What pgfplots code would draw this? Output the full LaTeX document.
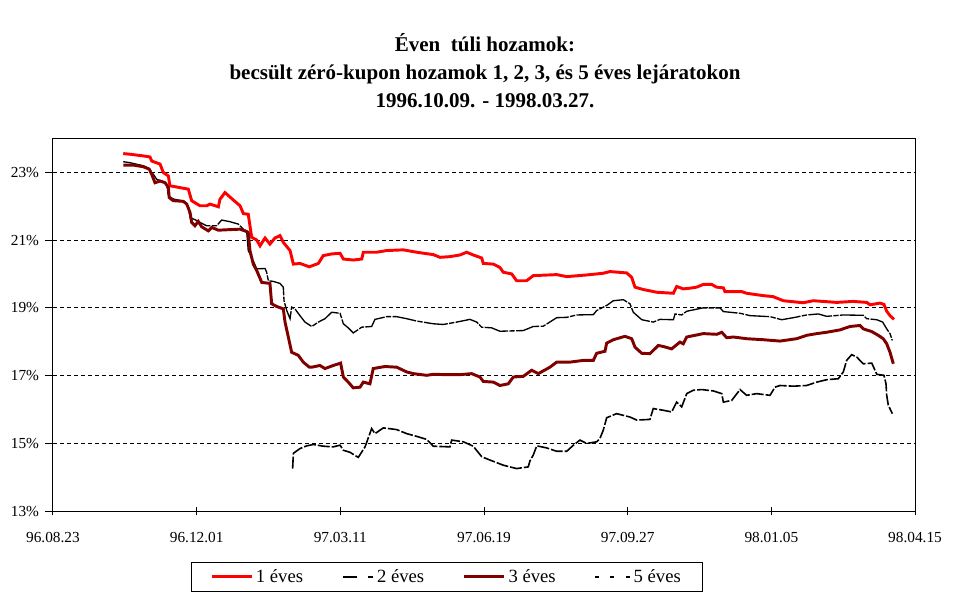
\documentclass[border=0pt]{standalone}
\usepackage{fontspec}
\setmainfont{Liberation Serif}
\usepackage{pgfplots}
\pgfplotsset{compat=1.18}
\definecolor{egy}{RGB}{255,0,0}
\definecolor{harom}{RGB}{128,0,0}
\begin{document}
\begin{tikzpicture}
\useasboundingbox (-39.75pt,-68.775pt) rectangle (687pt,383.475pt);
\begin{axis}[
  at={(0pt,0pt)}, anchor=south west,
  scale only axis, width=646.5pt, height=279.75pt,
  xmin=0, xmax=600, ymin=13, ymax=24,
  axis line style={black, line width=0.75pt},
  xtick={0,100,...,600},
  xticklabels={96.08.23,96.12.01,97.03.11,97.06.19,97.09.27,98.01.05,98.04.15},
  ytick={13,15,...,23},
  yticklabels={13\%,15\%,17\%,19\%,21\%,23\%},
  xtick align=center, ytick align=outside,
  major tick length=6pt,
  tick style={black, line width=0.75pt},
  xtick pos=bottom, ytick pos=left,
  ymajorgrids,
  major grid style={black, line width=0.75pt, dash pattern=on 3pt off 2.25pt},
  ticklabel style={font=\fontsize{11.5}{13}\selectfont},
  xticklabel style={yshift=-9pt},
  yticklabel style={xshift=-1pt},
  legend columns=4,
  legend style={at={(axis description cs:0.457,-0.176)}, anchor=center,
    draw=black, line width=0.75pt, font=\fontsize{14}{16}\selectfont,
    inner xsep=14.5pt, inner ysep=3pt,
    /tikz/every even column/.append style={column sep=27pt},
    cells={anchor=west}},
  legend image code/.code={\draw[#1] (0pt,0pt) -- (30pt,0pt);},
]
\addplot[egy, line width=2.2pt] coordinates {
(48.9,23.55)(53.6,23.53)(62.9,23.48)(67.5,23.45)(68.7,23.33)(74.5,23.24)(76.8,22.99)(80.3,22.89)(81.4,22.6)(94.2,22.5)(96.5,22.16)(102.3,22.01)(107.0,22.01)(109.3,22.06)(115.1,21.98)(116.2,22.2)(119.7,22.4)(125.5,22.18)(130.2,22.01)(132.5,21.78)(135.9,21.76)(138.3,21.08)(141.8,21.0)(144.1,20.83)(147.6,21.06)(151.0,20.88)(154.5,21.06)(158.0,21.13)(160.3,20.93)(165.0,20.69)(167.3,20.29)(171.9,20.31)(178.4,20.21)(184.7,20.31)(188.1,20.54)(194.0,20.59)(199.8,20.61)(202.1,20.44)(209.0,20.41)(214.9,20.44)(216.0,20.64)(225.3,20.64)(232.3,20.69)(243.8,20.71)(253.2,20.64)(264.7,20.57)(269.4,20.49)(276.3,20.51)(283.3,20.56)(287.9,20.64)(292.5,20.56)(298.4,20.47)(299.5,20.31)(306.5,20.29)(311.1,20.19)(313.4,20.05)(319.3,20.0)(322.7,19.8)(329.7,19.8)(334.3,19.95)(350.6,19.98)(357.6,19.92)(371.5,19.97)(383.0,20.02)(387.7,20.07)(399.3,20.03)(402.8,19.9)(405.1,19.61)(410.9,19.54)(420.2,19.46)(431.8,19.43)(434.1,19.63)(438.7,19.56)(443.4,19.58)(448.0,19.61)(452.6,19.69)(458.5,19.69)(461.9,19.61)(466.6,19.59)(467.7,19.48)(479.3,19.48)(482.8,19.43)(494.4,19.36)(501.3,19.33)(508.3,19.21)(522.2,19.15)(529.2,19.21)(545.5,19.16)(557.0,19.19)(566.4,19.16)(568.7,19.09)(575.6,19.14)(578.4,19.10)(580.3,18.90)(582.6,18.77)(585.4,18.66)
};
\addlegendentry{1 éves}
\addplot[black, line width=1pt, dash pattern=on 18pt off 1pt on 4pt off 1pt,
  legend image code/.code={\draw[black, line width=1.5pt] (0pt,0pt) -- (11pt,0pt) (19pt,0pt) -- (23pt,0pt);}] coordinates {
(48.9,23.31)(53.6,23.28)(62.9,23.19)(66.3,23.13)(69.8,22.94)(72.2,22.79)(76.8,22.72)(79.1,22.65)(80.3,22.30)(83.7,22.21)(89.6,22.16)(91.9,22.11)(94.2,21.96)(95.4,21.66)(98.8,21.60)(102.3,21.52)(107.0,21.42)(113.9,21.42)(117.4,21.59)(123.2,21.54)(129.0,21.47)(132.5,21.32)(134.8,21.27)(135.9,20.69)(138.3,20.49)(141.8,20.15)(147.6,20.16)(148.7,20.05)(149.9,19.80)(153.3,19.78)(158.0,19.72)(160.3,19.61)(160.8,19.21)(162.7,18.92)(165.0,18.68)(166.1,19.02)(168.4,18.97)(171.9,18.77)(175.4,18.58)(180.1,18.45)(184.7,18.58)(189.3,18.68)(194.0,18.87)(199.8,18.84)(202.1,18.53)(205.5,18.41)(209.0,18.26)(214.9,18.43)(221.8,18.45)(224.1,18.66)(232.3,18.74)(239.2,18.74)(246.2,18.68)(253.2,18.61)(264.7,18.53)(271.7,18.51)(281.0,18.58)(290.2,18.66)(294.9,18.58)(298.4,18.43)(305.3,18.41)(311.1,18.31)(327.3,18.33)(334.3,18.45)(341.3,18.46)(350.6,18.71)(357.6,18.72)(364.5,18.79)(376.1,18.80)(378.4,18.92)(385.4,19.07)(390.0,19.21)(397.0,19.24)(401.6,19.12)(403.9,18.87)(409.8,18.65)(417.8,18.58)(422.5,18.66)(431.8,18.65)(433.0,18.82)(437.6,18.79)(441.1,18.90)(445.7,18.94)(452.6,19.0)(464.3,19.0)(466.6,18.89)(478.2,18.84)(485.2,18.77)(499.1,18.74)(507.2,18.65)(515.3,18.71)(524.6,18.79)(532.7,18.82)(538.5,18.75)(550.1,18.79)(564.0,18.78)(566.4,18.68)(573.4,18.65)(577.5,18.58)(580.3,18.38)(582.6,18.24)(584.2,18.04)
};
\addlegendentry{2 éves}
\addplot[harom, line width=2.2pt] coordinates {
(48.9,23.21)(55.9,23.21)(62.9,23.16)(67.0,23.09)(68.7,22.94)(71.0,22.69)(74.5,22.74)(78.0,22.69)(80.3,22.55)(80.9,22.25)(83.7,22.16)(90.7,22.14)(93.1,22.06)(95.4,21.81)(96.5,21.52)(98.8,21.42)(101.1,21.55)(103.5,21.39)(108.1,21.27)(110.5,21.37)(115.1,21.29)(119.7,21.30)(130.2,21.32)(134.8,21.25)(135.9,21.22)(137.1,20.69)(139.4,20.29)(141.8,20.10)(145.3,19.75)(151.0,19.72)(152.2,19.12)(155.7,19.04)(160.3,18.97)(161.5,18.58)(163.8,18.14)(166.1,17.69)(170.7,17.60)(174.2,17.40)(178.4,17.25)(180.1,17.25)(185.8,17.30)(189.3,17.21)(195.1,17.30)(200.2,17.37)(202.1,16.96)(205.5,16.81)(209.0,16.64)(213.7,16.66)(216.0,16.81)(220.6,16.76)(222.9,17.21)(231.1,17.27)(239.2,17.25)(246.2,17.11)(250.8,17.06)(260.1,17.01)(264.7,17.04)(274.0,17.03)(283.3,17.03)(291.4,17.06)(297.2,16.96)(299.5,16.83)(306.5,16.81)(311.1,16.71)(316.9,16.76)(320.4,16.96)(327.3,16.98)(333.2,17.16)(337.8,17.06)(345.9,17.25)(350.6,17.40)(359.9,17.40)(369.1,17.45)(376.1,17.45)(378.4,17.66)(384.2,17.72)(385.4,17.96)(390.0,18.06)(398.1,18.16)(402.8,18.09)(405.1,17.84)(409.8,17.66)(415.5,17.65)(421.3,17.89)(424.8,17.86)(430.6,17.79)(436.4,17.99)(438.7,17.94)(441.1,18.14)(446.9,18.19)(452.6,18.24)(462.0,18.22)(465.5,18.28)(468.9,18.12)(473.6,18.14)(482.8,18.09)(494.4,18.06)(506.0,18.02)(517.6,18.09)(524.6,18.19)(531.6,18.24)(538.5,18.28)(547.8,18.35)(554.7,18.45)(561.7,18.48)(564.0,18.38)(569.9,18.30)(574.4,18.19)(577.9,18.09)(580.3,17.94)(582.6,17.69)(584.9,17.35)
};
\addlegendentry{3 éves}
\addplot[black, line width=1.2pt, dash pattern=on 9pt off 1.5pt,
  legend image code/.code={\draw[black, line width=1.5pt] (1pt,0pt) -- (4pt,0pt) (12pt,0pt) -- (15pt,0pt) (24pt,0pt) -- (27pt,0pt);}] coordinates {
(166.8,14.26)(167.3,14.71)(171.9,14.85)(176.6,14.93)(181.2,14.97)(188.1,14.92)(195.1,14.90)(199.8,14.95)(202.1,14.80)(206.7,14.74)(212.5,14.59)(214.9,14.75)(217.2,14.90)(221.8,15.44)(224.1,15.29)(229.9,15.46)(239.2,15.41)(246.2,15.29)(253.2,15.21)(260.1,15.12)(264.7,14.92)(276.3,14.90)(277.5,15.10)(285.6,15.05)(292.5,14.92)(298.4,14.61)(304.2,14.51)(313.4,14.36)(322.7,14.26)(330.8,14.31)(332.0,14.49)(334.3,14.66)(336.7,14.93)(343.6,14.87)(350.6,14.77)(357.6,14.77)(362.2,14.95)(366.8,15.10)(371.5,15.00)(378.4,15.05)(380.7,15.15)(383.0,15.39)(385.4,15.76)(392.3,15.88)(401.6,15.78)(406.3,15.69)(415.5,15.71)(417.8,16.03)(424.8,15.98)(430.6,15.93)(434.1,16.22)(437.6,16.08)(441.1,16.47)(445.7,16.57)(451.6,16.59)(459.6,16.55)(465.5,16.47)(466.6,16.22)(472.4,16.27)(478.2,16.59)(482.8,16.42)(489.8,16.47)(499.1,16.42)(502.5,16.66)(506.0,16.71)(515.3,16.69)(524.6,16.71)(531.6,16.81)(538.5,16.88)(546.6,16.91)(550.1,17.11)(552.4,17.45)(555.9,17.62)(559.4,17.55)(564.0,17.35)(569.9,17.37)(573.4,17.04)(578.4,17.01)(579.8,16.76)(580.3,16.42)(581.4,16.13)(584.2,15.88)
};
\addlegendentry{5 éves}
\end{axis}
\node[anchor=base, font=\fontsize{15.75}{18}\selectfont\bfseries] at (324pt,344.5pt) {Éven\ \ túli hozamok:};
\node[anchor=base, font=\fontsize{15.75}{18}\selectfont\bfseries] at (324pt,323.85pt) {becsült zéró-kupon hozamok 1, 2, 3, és 5 éves lejáratokon};
\node[anchor=base, font=\fontsize{15.75}{18}\selectfont\bfseries] at (324pt,303.2pt) {1996.10.09. - 1998.03.27.};
\end{tikzpicture}
\end{document}
